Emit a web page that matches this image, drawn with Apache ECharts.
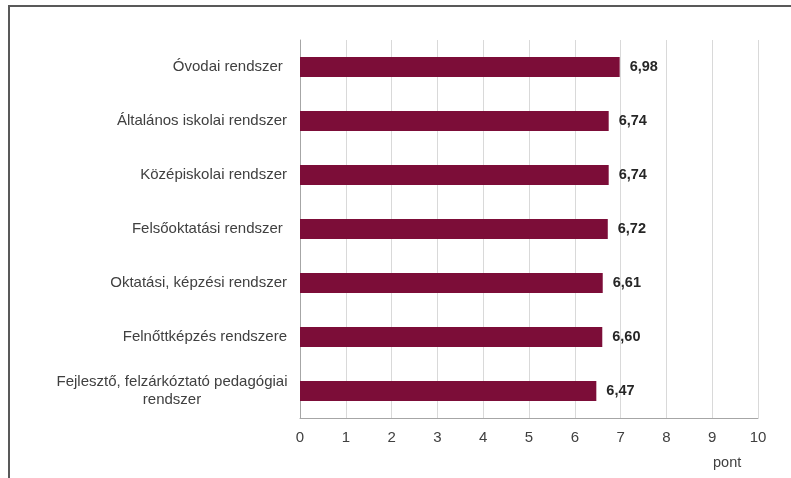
<!DOCTYPE html>
<html>
<head>
<meta charset="utf-8">
<script src="https://cdn.jsdelivr.net/npm/echarts@6/dist/echarts.min.js"></script>
<style>
  html, body { margin: 0; padding: 0; background: #fff; }
  #frame {
    position: absolute; left: 8px; top: 5px; width: 783px; height: 473px;
    border-top: 2px solid #595959; border-left: 2px solid #595959;
    box-sizing: border-box;
  }
  #chart { position: absolute; left: 0; top: 0; width: 791px; height: 478px; }
</style>
</head>
<body>
<div id="frame"></div>
<div id="chart"></div>
<script>
const categories = [
  'Óvodai rendszer ',
  'Általános iskolai rendszer',
  'Középiskolai rendszer',
  'Felsőoktatási rendszer ',
  'Oktatási, képzési rendszer',
  'Felnőttképzés rendszere',
  'Fejlesztő, felzárkóztató pedagógiai\nrendszer'
];
const scores = [6.98, 6.74, 6.74, 6.72, 6.61, 6.60, 6.47];
const axisMax = 10;
const unitName = 'pont';

const chart = echarts.init(document.getElementById('chart'));

const option = {
  animation: false,
  textStyle: { fontFamily: 'Liberation Sans, Arial, sans-serif' },
  grid: { left: 300, right: 33, top: 40, bottom: 60 },
  graphic: [
    {
      type: 'text',
      left: 713,
      top: 455,
      style: { text: unitName, fill: '#404040', fontSize: 14.5, fontFamily: 'Liberation Sans, Arial, sans-serif' }
    }
  ],
  xAxis: {
    type: 'value',
    min: 0,
    max: axisMax,
    interval: 1,
    axisLine: { show: true, lineStyle: { color: '#a6a6a6', width: 1 } },
    axisTick: { show: false },
    axisLabel: { color: '#404040', fontSize: 15, margin: 12 },
    splitLine: { show: true, lineStyle: { color: '#d9d9d9', width: 1 } }
  },
  yAxis: {
    type: 'category',
    inverse: true,
    data: categories,
    axisLine: { show: true, lineStyle: { color: '#a6a6a6', width: 1 } },
    axisTick: { show: false },
    axisLabel: {
      color: '#404040',
      fontSize: 15,
      margin: 13,
      formatter: (v) => v.indexOf('\n') >= 0 ? '{w|' + v + '}' : v,
      rich: {
        w: { width: 230, align: 'center', lineHeight: 18, fontSize: 15, color: '#404040' }
      }
    }
  },
  series: [
    {
      type: 'bar',
      data: scores,
      barWidth: 20,
      itemStyle: { color: '#7c0d38' },
      label: {
        show: true,
        position: 'right',
        distance: 10,
        fontSize: 14.5,
        fontWeight: 'bold',
        color: '#262626',
        formatter: (p) => p.value.toFixed(2).replace('.', ',')
      }
    }
  ]
};

chart.setOption(option);
</script>
</body>
</html>
